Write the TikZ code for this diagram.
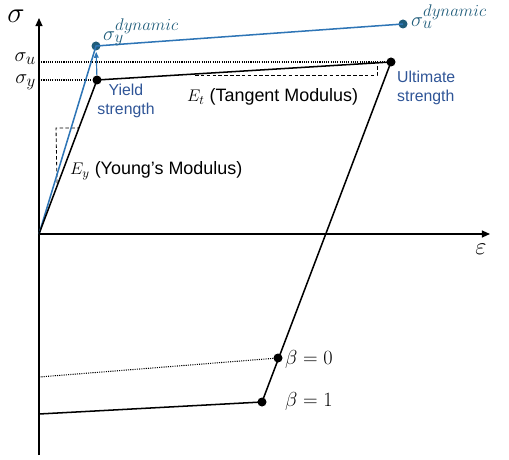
\documentclass[tikz,border=0pt]{standalone}
\usepackage{fontspec}
\setmainfont{Liberation Sans}
\usetikzlibrary{arrows.meta}
\definecolor{dynblue}{HTML}{2E75B6}
\definecolor{dotblue}{HTML}{1F5C7A}
\definecolor{txtblue}{HTML}{2F5597}

\begin{document}
\begin{tikzpicture}[
  x=0.03cm, y=-0.03cm,
  point/.style={circle,fill=black,inner sep=0pt,minimum size=0.27cm},
  dynpoint/.style={point,fill=dotblue},
  curve/.style={draw=black,line width=1.3pt},
  dyncurve/.style={draw=dynblue,line width=1.3pt},
  guide/.style={densely dotted,line width=0.9pt},
  slope/.style={densely dashed,line width=0.7pt},
  axis/.style={line width=1.3pt,-{Triangle[length=7pt,width=6pt]}},
  note/.style={font=\fontsize{13.5}{16}\selectfont,text=txtblue,inner sep=0pt},
  modulus/.style={font=\fontsize{15.3}{18}\selectfont,inner sep=0pt}
  ]
	\useasboundingbox (0,0) rectangle (509,460);

	% axes
	\coordinate (O) at (39,234);
	\coordinate (ytop) at (39,18);
	\coordinate (ybot) at (39,455);
	\coordinate (xend) at (490,234);
	\draw[axis] (ybot) -- (ytop);
	\draw[axis] (O) -- (xend);

	% static curve
	\node[point] (yield) at (97,80) {};
	\node[point] (ult) at (391,62) {};
	\node[point] (beta0) at (278,358) {};
	\node[point] (beta1) at (262,402) {};
	\coordinate (rev1) at (39,414);
	\coordinate (rev0) at (39,377);

	% dynamic curve
	\node[dynpoint] (dynyield) at (96,46) {};
	\node[dynpoint] (dynult) at (403,24) {};

	% guides
	\coordinate (su) at (39,62);
	\coordinate (sy) at (39,80);
	\draw[guide] (su) -- (ult);
	\draw[guide] (sy) -- (yield);
	\draw[guide] (beta0) -- (rev0);

	% slope triangles
	\coordinate (ey1) at (57,183);
	\coordinate (ey2) at (56,128);
	\coordinate (ey3) at (79,128);
	\draw[slope] (ey1) -- (ey2) -- (ey3);
	\coordinate (et1) at (195,75);
	\coordinate (et2) at (377,75);
	\coordinate (et3) at (377,64);
	\draw[slope] (et1) -- (et2) -- (et3);

	\draw[dyncurve] (O) -- (dynyield.center) -- (dynult.center);
	\draw[curve] (O) -- (yield.center) -- (ult.center) -- (beta1.center) -- (rev1);
	\draw[dynblue,line width=1pt,-{Triangle[length=5pt,width=4pt]},shorten >=1pt] (yield) -- (dynyield);

	% labels
	\node[font=\fontsize{26}{28}\selectfont,inner sep=0pt] (sig) at (16,16) {$\sigma$};
	\node[font=\fontsize{19}{20}\selectfont,inner sep=0pt,anchor=east] (sigu) at (36,59) {$\sigma_u$};
	\node[font=\fontsize{19}{20}\selectfont,inner sep=0pt,anchor=east] (sigy) at (36,82) {$\sigma_y$};
	\node[font=\fontsize{19}{22}\selectfont,text=dotblue,inner sep=0pt,anchor=south west] (sigyd) at (103,46) {$\sigma_y^{dynamic}$};
	\node[font=\fontsize{19}{22}\selectfont,text=dotblue,inner sep=0pt,anchor=south west] (sigud) at (411,29) {$\sigma_u^{dynamic}$};
	\node[note,align=center] (yieldtxt) at (126,101) {Yield\\strength};
	\node[note,align=left,anchor=north west] (ulttxt) at (397,71) {Ultimate\\strength};
	\node[modulus,anchor=west] (ettxt) at (187,97) {$E_t$ (Tangent Modulus)};
	\node[modulus,anchor=west] (eytxt) at (70,171) {$E_y$ (Young's Modulus)};
	\node[font=\fontsize{17}{20}\selectfont,inner sep=0pt,anchor=west] (b0txt) at (285,359) {$\beta = 0$};
	\node[font=\fontsize{17}{20}\selectfont,inner sep=0pt,anchor=west] (b1txt) at (285,401) {$\beta = 1$};
	\node[font=\fontsize{22}{24}\selectfont,inner sep=0pt] (epstxt) at (481,249) {$\varepsilon$};
\end{tikzpicture}
\end{document}
